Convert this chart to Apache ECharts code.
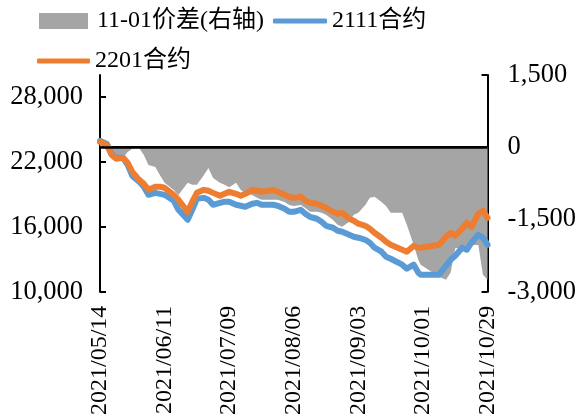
<!DOCTYPE html>
<html><head><meta charset="utf-8">
<script src="https://cdn.jsdelivr.net/npm/echarts@6/dist/echarts.min.js"></script>
<style>html,body{margin:0;padding:0;background:#fff}#c{width:579px;height:418px}</style>
</head><body><div id="c"></div>
<script>
const dates = ['2021-05-14','2021-05-17','2021-05-19','2021-05-21','2021-05-24','2021-05-26','2021-05-28','2021-05-31',
'2021-06-02','2021-06-04','2021-06-07','2021-06-09','2021-06-11','2021-06-15','2021-06-17','2021-06-21','2021-06-23','2021-06-25','2021-06-28','2021-06-30',
'2021-07-02','2021-07-05','2021-07-07','2021-07-09','2021-07-12','2021-07-14','2021-07-16','2021-07-19','2021-07-21','2021-07-23','2021-07-26','2021-07-28','2021-07-30',
'2021-08-02','2021-08-04','2021-08-06','2021-08-09','2021-08-11','2021-08-13','2021-08-16','2021-08-18','2021-08-20','2021-08-23','2021-08-25','2021-08-27','2021-08-30',
'2021-09-01','2021-09-03','2021-09-06','2021-09-08','2021-09-10','2021-09-13','2021-09-15','2021-09-17','2021-09-22','2021-09-24','2021-09-27','2021-09-29','2021-09-30',
'2021-10-08','2021-10-11','2021-10-13','2021-10-15','2021-10-18','2021-10-20','2021-10-22','2021-10-25','2021-10-27','2021-10-29'];
const spread = [50,-60,-200,-220,-220,-100,-30,-20,
-160,-370,-410,-580,-740,-890,-990,-740,-780,-780,-580,-430,
-640,-740,-780,-830,-740,-890,-950,-990,-1050,-1090,-1090,-1090,-1090,
-1140,-1200,-1220,-1200,-1260,-1340,-1340,-1360,-1400,-1510,-1610,-1650,-1550,
-1400,-1360,-1200,-1050,-1030,-1140,-1220,-1360,-1360,-1610,-2030,-2340,-2440,
-2690,-2750,-2600,-2100,-2090,-2030,-2030,-2030,-2650,-2750];
const c2111 = [23920,23640,22720,22350,22350,21710,20690,20140,
19680,18940,19120,19030,18940,18390,17560,16640,17560,18570,18660,18480,
18020,18200,18300,18300,18020,17930,17830,18110,18200,18020,18020,18020,17930,
17650,17370,17370,17560,17190,16910,16730,16450,16080,15900,15620,15530,15250,
15070,14980,14790,14520,14060,13690,13230,13040,12490,12120,12490,11750,11570,
11570,12400,12950,13320,14060,13870,14520,15250,14980,14330];
const c2201 = [23830,23550,22630,22260,22350,21890,21060,20320,
19950,19400,19680,19680,19590,18940,18480,17370,18300,19120,19400,19310,
19120,18850,19030,19220,19030,18850,19030,19400,19310,19220,19310,19400,19220,
18940,18760,18660,18760,18390,18200,18110,17930,17740,17370,17190,17280,16730,
16540,16270,16080,15810,15440,14980,14610,14330,13870,13690,14240,14060,14060,
14330,15070,15440,15160,15810,16360,15990,17190,17470,16820];
const seriesNames = ['11-01价差(右轴)','2111合约','2201合约'];
const startDate = '2021-05-14';
const endDate = '2021-10-29';

const DAY = 86400000;
const t0 = Date.parse(startDate + 'T00:00:00Z');
const off = d => Math.round((Date.parse(d + 'T00:00:00Z') - t0) / DAY);
const pad = n => (n < 10 ? '0' : '') + n;
const fmtDate = v => { const d = new Date(t0 + v * DAY); return d.getUTCFullYear() + '/' + pad(d.getUTCMonth() + 1) + '/' + pad(d.getUTCDate()); };
const fmtNum = v => { const s = Math.abs(v).toString().replace(/\B(?=(\d{3})+(?!\d))/g, ','); return (v < 0 ? '-' : '') + s; };
const FONT = "'Liberation Serif','Times New Roman','Noto Sans CJK SC',serif";
const txt = {fontFamily: FONT, fontSize: 24, color: '#000'};
const ytxt = {fontFamily: FONT, fontSize: 26.5, color: '#000'};

const chart = echarts.init(document.getElementById('c'), null, {renderer: 'canvas'});
chart.setOption({
  animation: false,
  backgroundColor: '#fff',
  grid: {left: 100, right: 90, top: 75, bottom: 126, containLabel: false},
  legend: [
    {data: [{name: seriesNames[0], icon: 'rect'}], left: 39, top: 9, padding: 0, itemWidth: 49, itemHeight: 16, textStyle: Object.assign({padding: [0,0,0,4]}, txt), selectedMode: false},
    {data: [{name: seriesNames[1], icon: 'roundRect'}], left: 273, top: 9, padding: 0, itemWidth: 54, itemHeight: 5, textStyle: txt, selectedMode: false},
    {data: [{name: seriesNames[2], icon: 'roundRect'}], left: 37, top: 49, padding: 0, itemWidth: 53, itemHeight: 5, textStyle: txt, selectedMode: false}
  ],
  xAxis: {
    type: 'value', min: 0, max: off(endDate), interval: 28,
    axisLine: {show: true, lineStyle: {color: '#000', width: 2}},
    axisTick: {show: false}, splitLine: {show: false},
    axisLabel: Object.assign({rotate: 90, margin: 14, formatter: fmtDate, padding: [12,0,0,0]}, txt)
  },
  yAxis: [
    {type: 'value', min: 10000, max: 30000, interval: 6000, position: 'left',
     axisLine: {show: true, lineStyle: {color: '#000', width: 2}},
     axisTick: {show: true, inside: true, length: 6, lineStyle: {color: '#000', width: 2}},
     splitLine: {show: false},
     axisLabel: Object.assign({margin: 17, formatter: fmtNum, showMaxLabel: false}, ytxt)},
    {type: 'value', min: -3000, max: 1500, interval: 1500, position: 'right',
     axisLine: {show: true, lineStyle: {color: '#000', width: 2}},
     axisTick: {show: true, inside: true, length: 6, lineStyle: {color: '#000', width: 2}},
     splitLine: {show: false},
     axisLabel: Object.assign({margin: 20, formatter: fmtNum}, ytxt)}
  ],
  series: [
    {name: seriesNames[0], type: 'line', yAxisIndex: 1, symbol: 'none', z: 1,
     data: dates.map((d, i) => [off(d), spread[i]]),
     lineStyle: {width: 0, color: '#A5A5A5'}, itemStyle: {color: '#A5A5A5'},
     areaStyle: {color: '#A5A5A5', opacity: 1},
     markLine: {silent: true, symbol: 'none', label: {show: false}, animation: false,
       lineStyle: {color: '#000', width: 2.5, type: 'solid'}, data: [{yAxis: 0}]}},
    {name: seriesNames[1], type: 'line', symbol: 'none', z: 3,
     data: dates.map((d, i) => [off(d), c2111[i]]),
     lineStyle: {width: 6, color: '#5B9BD5', cap: 'round', join: 'round'}, itemStyle: {color: '#5B9BD5'}},
    {name: seriesNames[2], type: 'line', symbol: 'none', z: 4,
     data: dates.map((d, i) => [off(d), c2201[i]]),
     lineStyle: {width: 6, color: '#ED7D31', cap: 'round', join: 'round'}, itemStyle: {color: '#ED7D31'}}
  ]
});
</script></body></html>
